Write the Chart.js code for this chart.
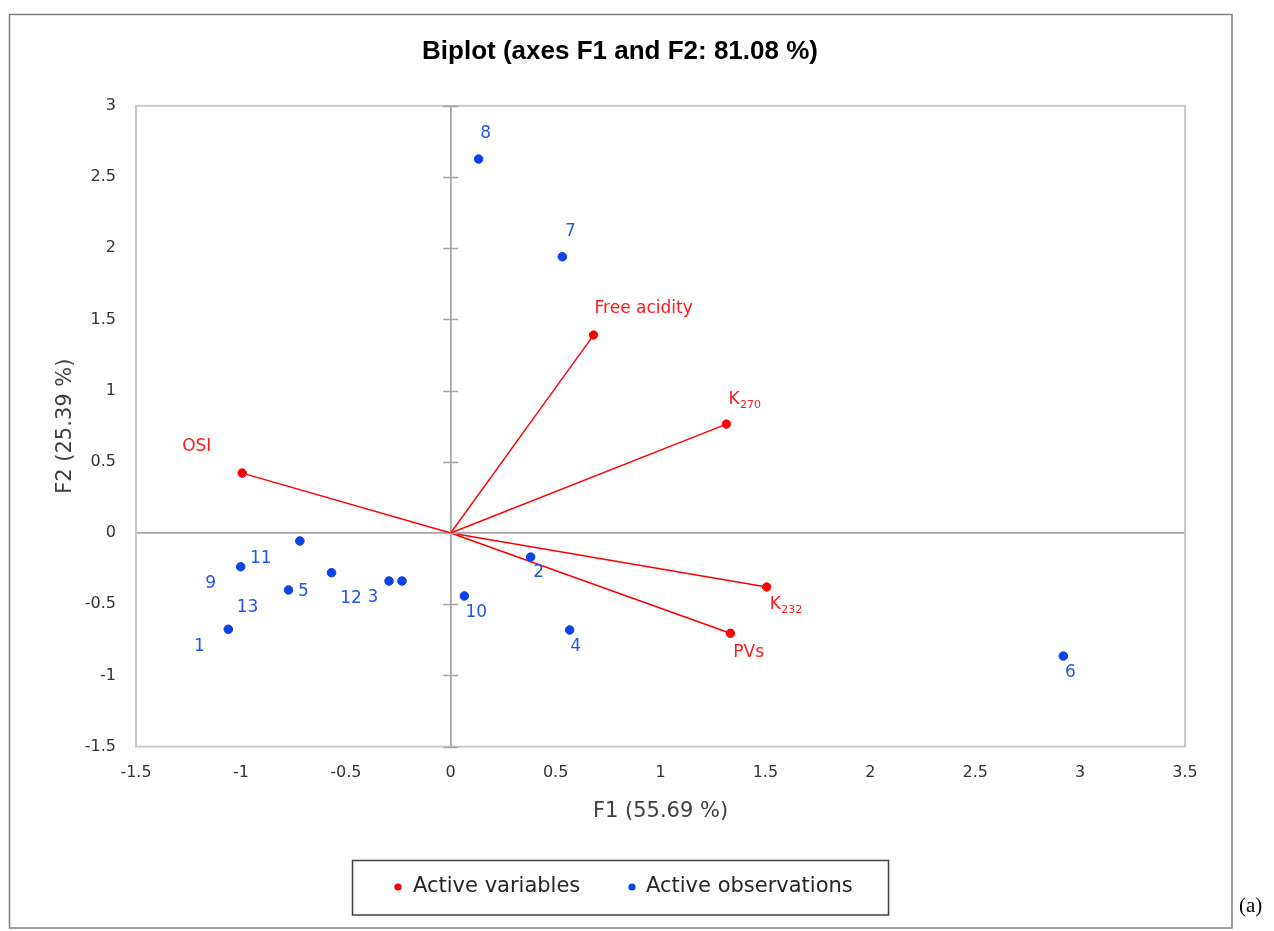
<!DOCTYPE html>
<html>
<head>
<meta charset="utf-8">
<title>Biplot (axes F1 and F2: 81.08 %)</title>
<script src="https://cdn.jsdelivr.net/npm/chart.js@4.4.1/dist/chart.umd.min.js"></script>
<style>
    html, body { margin: 0; padding: 0; background: #fff; }
    #wrap { width: 1274px; height: 931px; }
</style>
</head>
<body>
<div id="wrap"><canvas id="biplot" width="1274" height="931"></canvas></div>
<script>
// Observation scores on F1 / F2
const obsNames = ['1', '2', '3', '4', '5', '6', '7', '8', '9', '10', '11', '12', '13'];
const obsF1 = [-1.060, 0.381, -0.232, 0.567, -0.773, 2.920, 0.532, 0.133, -1.001, 0.065, -0.719, -0.294, -0.568];
const obsF2 = [-0.676, -0.169, -0.337, -0.681, -0.400, -0.864, 1.940, 2.626, -0.237, -0.442, -0.056, -0.337, -0.279];

// Variable loadings (vectors from the origin)
const varNames = ['Free acidity', 'K', 'K', 'PVs', 'OSI'];
const varSubs = ['', '270', '232', '', ''];
const varF1 = [0.681, 1.314, 1.506, 1.333, -0.994];
const varF2 = [1.390, 0.765, -0.379, -0.704, 0.421];

const xTicks = [-1.5, -1, -0.5, 0, 0.5, 1, 1.5, 2, 2.5, 3, 3.5];
const xTickLabels = ['-1.5', '-1', '-0.5', '0', '0.5', '1', '1.5', '2', '2.5', '3', '3.5'];
const yTicks = [-1.5, -1, -0.5, 0, 0.5, 1, 1.5, 2, 2.5, 3];
const yTickLabels = ['-1.5', '-1', '-0.5', '0', '0.5', '1', '1.5', '2', '2.5', '3'];

const chartTitle = 'Biplot (axes F1 and F2: 81.08 %)';
const xTitle = 'F1 (55.69 %)';
const yTitle = 'F2 (25.39 %)';
const legendNames = ['Active variables', 'Active observations'];

// label placement around each mark (px)
const obsLabelDx = [-29, 8, -29, 6, 15, 7, 8, 7, -30, 12, -39, -38, -84];
const obsLabelDy = [17, 16, 17, 17, 2, 17, -25, -25, 17, 17, 18, 18, 35];
const varLabelDx = [1, 2, 3, 3, -60];
const varLabelDy = [-26, -24, 18, 19, -26];

const RED = '#ff0000';
const BLUE = '#0a44e6';
const BLUE_TEXT = '#2456e8';
const AXIS_GRAY = '#a6a6a6';
const FONT = "'DejaVu Sans', sans-serif";

Chart.defaults.font.family = FONT;

const vectorSets = varF1.map((vx, i) => ({
    label: 'vec' + i,
    data: [{ x: 0, y: 0 }, { x: vx, y: varF2[i] }],
    showLine: true,
    borderColor: RED,
    borderWidth: 1.4,
    pointRadius: 0,
    order: 3
}));

const biplotExtras = {
    id: 'biplotExtras',
    afterDraw(chart) {
        const { ctx, chartArea: a, scales: { x, y } } = chart;
        ctx.save();

        // outer frame
        ctx.strokeStyle = '#7f7f7f';
        ctx.lineWidth = 1.5;
        ctx.strokeRect(9.5, 14.5, 1222.5, 913.5);

        // plot area border
        ctx.strokeStyle = '#c4c4c4';
        ctx.lineWidth = 1.8;
        ctx.strokeRect(a.left, a.top, a.right - a.left, a.bottom - a.top);

        // tick marks crossing the vertical axis
        const x0 = x.getPixelForValue(0);
        ctx.strokeStyle = AXIS_GRAY;
        ctx.lineWidth = 1.5;
        yTicks.forEach(v => {
            const py = Math.round(y.getPixelForValue(v)) + 0.5;
            ctx.beginPath();
            ctx.moveTo(x0 - 7.5, py);
            ctx.lineTo(x0 + 7.5, py);
            ctx.stroke();
        });

        // observation labels
        ctx.font = '17px ' + FONT;
        ctx.fillStyle = BLUE_TEXT;
        ctx.textAlign = 'center';
        ctx.textBaseline = 'middle';
        obsNames.forEach((name, i) => {
            const px = x.getPixelForValue(obsF1[i]);
            const py = y.getPixelForValue(obsF2[i]);
            ctx.fillText(name, px + obsLabelDx[i], py + obsLabelDy[i]);
        });

        // variable labels (with subscripts)
        ctx.fillStyle = '#ff1a1a';
        ctx.textAlign = 'left';
        varNames.forEach((name, i) => {
            const px = x.getPixelForValue(varF1[i]) + varLabelDx[i];
            const py = y.getPixelForValue(varF2[i]) + varLabelDy[i];
            ctx.font = '17px ' + FONT;
            ctx.fillText(name, px, py);
            if (varSubs[i]) {
                const w = ctx.measureText(name).width;
                ctx.font = '11px ' + FONT;
                ctx.fillText(varSubs[i], px + w + 0.5, py + 5);
            }
        });

        // title
        ctx.fillStyle = '#000';
        ctx.textAlign = 'center';
        ctx.font = "bold 26px 'Liberation Sans', Arial, sans-serif";
        ctx.fillText(chartTitle, 620, 52);

        // legend
        ctx.strokeStyle = '#404040';
        ctx.lineWidth = 1.5;
        ctx.strokeRect(352.5, 860.5, 536, 54.5);
        ctx.font = '21px ' + FONT;
        ctx.textAlign = 'left';
        const legendItems = [
            { color: RED, dotX: 398, textX: 413 },
            { color: BLUE, dotX: 632, textX: 646 }
        ];
        legendItems.forEach((it, i) => {
            ctx.fillStyle = it.color;
            ctx.beginPath();
            ctx.arc(it.dotX, 887, 3.6, 0, Math.PI * 2);
            ctx.fill();
            ctx.fillStyle = '#262626';
            ctx.fillText(legendNames[i], it.textX, 887);
        });

        // panel tag
        ctx.fillStyle = '#000';
        ctx.font = "21px 'Liberation Serif', 'Times New Roman', serif";
        ctx.fillText('(a)', 1239, 906);

        ctx.restore();
    }
};

new Chart(document.getElementById('biplot'), {
    type: 'scatter',
    data: {
        datasets: [
            {
                label: legendNames[1],
                data: obsF1.map((v, i) => ({ x: v, y: obsF2[i] })),
                backgroundColor: BLUE,
                borderColor: BLUE,
                pointRadius: 4.3,
                order: 1
            },
            {
                label: legendNames[0],
                data: varF1.map((v, i) => ({ x: v, y: varF2[i] })),
                backgroundColor: RED,
                borderColor: RED,
                pointRadius: 4.2,
                order: 2
            },
            ...vectorSets
        ]
    },
    options: {
        responsive: false,
        animation: false,
        layout: { padding: { top: 105.8, right: 89, bottom: 104.4, left: 0 } },
        plugins: {
            legend: { display: false },
            title: { display: false },
            tooltip: { enabled: false }
        },
        scales: {
            x: {
                type: 'linear',
                min: -1.5,
                max: 3.5,
                afterBuildTicks: s => { s.ticks = xTicks.map(v => ({ value: v })); },
                afterFit: s => { s.height = 80; },
                ticks: {
                    autoSkip: false,
                    maxRotation: 0,
                    padding: 17,
                    color: '#333333',
                    font: { size: 16 },
                    callback: (v, i) => xTickLabels[i]
                },
                grid: {
                    drawTicks: false,
                    color: c => (c.tick && c.tick.value === 0 ? AXIS_GRAY : 'rgba(0,0,0,0)'),
                    lineWidth: 1.8
                },
                border: { display: false },
                title: {
                    display: true,
                    text: xTitle,
                    color: '#404040',
                    font: { size: 21 },
                    padding: { top: 0, bottom: 2 }
                }
            },
            y: {
                type: 'linear',
                min: -1.5,
                max: 3,
                afterBuildTicks: s => { s.ticks = yTicks.map(v => ({ value: v })); },
                afterFit: s => { s.width = 136; },
                ticks: {
                    autoSkip: false,
                    padding: 20,
                    color: '#333333',
                    font: { size: 16 },
                    callback: (v, i) => yTickLabels[i]
                },
                grid: {
                    drawTicks: false,
                    color: c => (c.tick && c.tick.value === 0 ? AXIS_GRAY : 'rgba(0,0,0,0)'),
                    lineWidth: 1.8
                },
                border: { display: false },
                title: {
                    display: true,
                    text: yTitle,
                    color: '#404040',
                    font: { size: 21 },
                    padding: { top: 53, bottom: 0 }
                }
            }
        }
    },
    plugins: [biplotExtras]
});
</script>
</body>
</html>
